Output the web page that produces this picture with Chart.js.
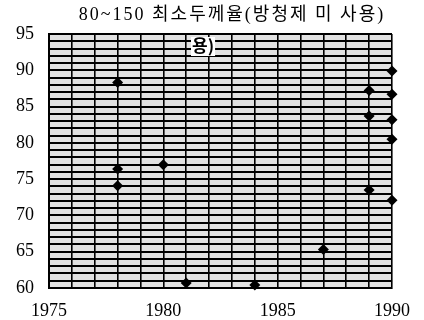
<!DOCTYPE html>
<html>
<head>
<meta charset="utf-8">
<script src="https://cdn.jsdelivr.net/npm/chart.js@4.4.1/dist/chart.umd.min.js"></script>
<style>
  html, body { margin: 0; padding: 0; background: #fff; }
  #wrap { width: 424px; height: 320px; }
</style>
</head>
<body>
<div id="wrap"><canvas id="myChart" width="424" height="320"></canvas></div>
<script>
// datos
var chartTitle = "80~150 최소두께율(방청제 미 사용)";
var strayText = "용)";
var years = [1978, 1978, 1978, 1980, 1981, 1984, 1987, 1989, 1989, 1989, 1990, 1990, 1990, 1990, 1990];
var values = [88.3, 76.4, 74.1, 77.0, 60.7, 60.4, 65.3, 87.2, 83.7, 73.5, 89.9, 86.7, 83.2, 80.5, 72.1];
var xTicks = [1975, 1980, 1985, 1990];
var yTicks = [60, 65, 70, 75, 80, 85, 90, 95];

var puntos = years.map(function (y, i) { return { x: y, y: values[i] }; });
var serif = "'Liberation Serif', 'DejaVu Serif', 'Noto Sans CJK KR', serif";

// fondo gris, titulo y texto suelto
var decor = {
  id: 'decor',
  beforeDraw: function (chart) {
    var a = chart.chartArea, c = chart.ctx;
    c.save();
    c.fillStyle = '#e2e2e2';
    c.fillRect(a.left, a.top, a.right - a.left, a.bottom - a.top);
    c.restore();
  },
  afterDraw: function (chart) {
    var c = chart.ctx;
    c.save();
    c.fillStyle = '#000';
    c.font = "18px " + serif;
    c.letterSpacing = '2px';
    c.textAlign = 'center';
    c.textBaseline = 'middle';
    c.fillText(chartTitle, 232, 15);
    c.letterSpacing = '0px';
    c.font = "bold 17px 'Noto Sans CJK KR', sans-serif";
    c.textAlign = 'left';
    var w = c.measureText(strayText).width;
    c.fillStyle = '#fff';
    c.fillRect(191, 37, w + 2, 19);
    c.fillStyle = '#000';
    c.fillText(strayText, 192, 46);
    c.restore();
  }
};

var ctx = document.getElementById("myChart").getContext("2d");
var myChart = new Chart(ctx, {
  type: "scatter",
  data: {
    datasets: [{
      data: puntos,
      pointStyle: 'rectRot',
      pointRadius: 5.5,
      backgroundColor: '#000',
      borderColor: '#000',
      borderWidth: 0,
      clip: false
    }]
  },
  options: {
    responsive: false,
    animation: false,
    layout: { padding: { top: 34, right: 32, left: 0, bottom: 0 } },
    plugins: { legend: { display: false }, tooltip: { enabled: false }, title: { display: false } },
    scales: {
      x: {
        type: 'linear',
        min: 1975, max: 1990,
        afterFit: function (s) { s.height = 32; },
        border: { color: '#000', width: 2 },
        grid: { color: '#000', lineWidth: 1.6, drawTicks: false },
        ticks: {
          stepSize: 1, autoSkip: false, padding: 12, color: '#000',
          maxRotation: 0, minRotation: 0,
          font: { family: serif, size: 18 },
          callback: function (v) { return xTicks.indexOf(v) >= 0 ? String(v) : ''; }
        }
      },
      y: {
        min: 60, max: 95,
        afterFit: function (s) { s.width = 49; },
        border: { color: '#000', width: 2 },
        grid: { color: '#000', lineWidth: 2, drawTicks: false },
        ticks: {
          stepSize: 1, autoSkip: false, padding: 15, color: '#000',
          font: { family: serif, size: 18 },
          callback: function (v) { return yTicks.indexOf(v) >= 0 ? String(v) : ''; }
        }
      }
    }
  },
  plugins: [decor]
});
</script>
</body>
</html>
